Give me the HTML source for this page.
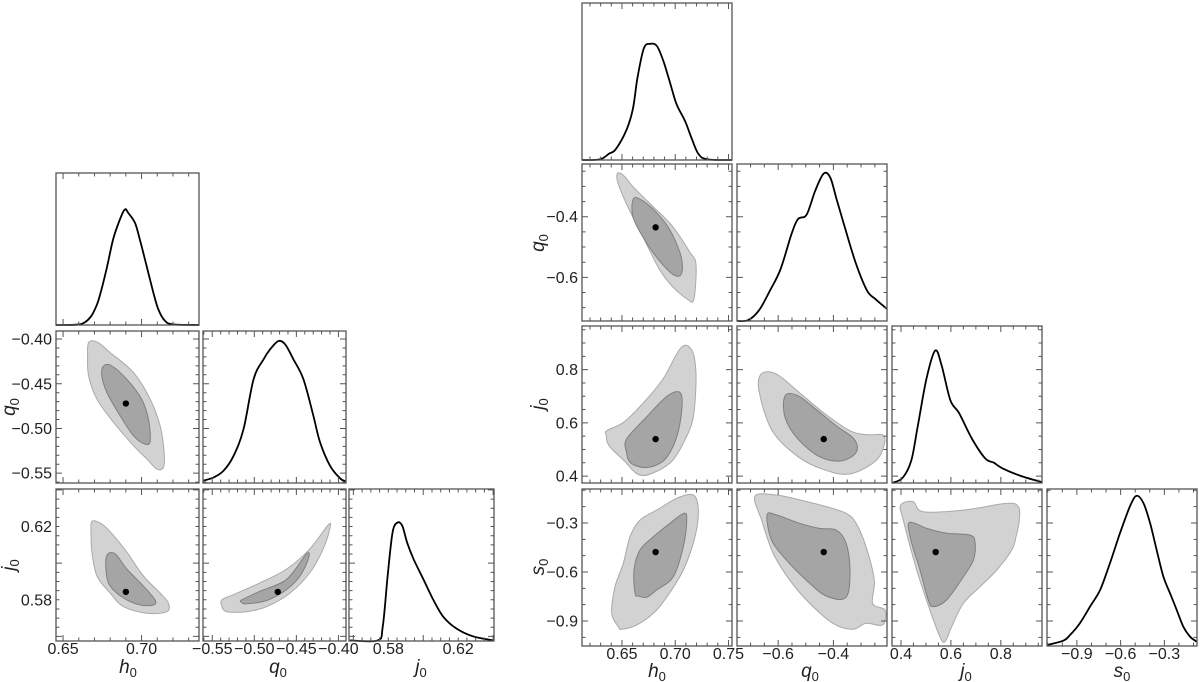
<!DOCTYPE html>
<html><head><meta charset="utf-8">
<style>
html,body{margin:0;padding:0;background:#fff;}
svg{display:block;font-family:"Liberation Sans",Arial,sans-serif;}
</style></head>
<body>
<svg id="chart" width="1200" height="682" viewBox="0 0 1200 682" xmlns="http://www.w3.org/2000/svg"></svg>
<script>
// ---------- LEFT corner plot data (h0, q0, j0) ----------
const L_h_dens_x = [0.6451,0.6585,0.6638,0.6681,0.6713,0.6734,0.6777,0.6819,0.6862,0.6894,0.6915,0.6958,0.6989,0.7032,0.7075,0.7106,0.7149,0.7202,0.7366];
const L_h_dens_y = [0,0.002,0.017,0.061,0.127,0.192,0.367,0.563,0.694,0.76,0.738,0.672,0.563,0.389,0.214,0.105,0.028,0.004,0];
const L_q_dens_x = [-0.561,-0.5483,-0.5365,-0.5246,-0.5128,-0.5009,-0.4890,-0.4811,-0.4713,-0.4633,-0.4535,-0.4416,-0.4298,-0.4218,-0.4100,-0.3981,-0.391];
const L_q_dens_y = [0.015,0.037,0.081,0.179,0.354,0.683,0.814,0.88,0.934,0.912,0.814,0.683,0.442,0.267,0.114,0.031,0.009];
const L_j_dens_x = [0.558,0.5739,0.5768,0.5796,0.5824,0.5852,0.5880,0.5908,0.5946,0.6002,0.6058,0.6115,0.6190,0.6284,0.640];
const L_j_dens_y = [0.004,0.004,0.093,0.425,0.712,0.779,0.757,0.646,0.535,0.403,0.27,0.159,0.082,0.031,0.004];
const L_hq_outer = [[0.6663,-0.4040],[0.6716,-0.4033],[0.6800,-0.4152],[0.6949,-0.4375],[0.7055,-0.4673],[0.7118,-0.4970],[0.7144,-0.5268],[0.7139,-0.5435],[0.7097,-0.5454],[0.7034,-0.5342],[0.6949,-0.5193],[0.6822,-0.4933],[0.6716,-0.4673],[0.6663,-0.4412],[0.6656,-0.4189]];
const L_hq_inner = [[0.6758,-0.4301],[0.6811,-0.4301],[0.6906,-0.4450],[0.7001,-0.4673],[0.7044,-0.4896],[0.7055,-0.5138],[0.7023,-0.5175],[0.6949,-0.5082],[0.6864,-0.4859],[0.6779,-0.4598],[0.6747,-0.4412]];
const L_hj_outer = [[0.6684,0.6228],[0.6737,0.6219],[0.6800,0.6172],[0.6906,0.6061],[0.7012,0.5930],[0.7118,0.5837],[0.7171,0.5782],[0.7161,0.5735],[0.7034,0.5726],[0.6885,0.5763],[0.6800,0.5837],[0.6716,0.5930],[0.6684,0.6061],[0.6678,0.6172]];
const L_hj_inner = [[0.6779,0.6042],[0.6832,0.6051],[0.6906,0.5968],[0.7012,0.5875],[0.7086,0.5800],[0.7076,0.5772],[0.6991,0.5772],[0.6885,0.5810],[0.6800,0.5875],[0.6775,0.5949]];
const L_qj_outer = [[-0.5385,0.5800],[-0.5247,0.5828],[-0.4931,0.5893],[-0.4615,0.5968],[-0.4338,0.6079],[-0.4121,0.6209],[-0.4101,0.6191],[-0.4180,0.6079],[-0.4338,0.5949],[-0.4575,0.5837],[-0.4852,0.5763],[-0.5089,0.5735],[-0.5326,0.5735],[-0.5385,0.5763]];
const L_qj_inner = [[-0.5148,0.5800],[-0.4931,0.5847],[-0.4615,0.5912],[-0.4378,0.6051],[-0.4358,0.6023],[-0.4457,0.5930],[-0.4615,0.5856],[-0.4852,0.5796],[-0.5089,0.5778],[-0.5148,0.5785]];
const L_best = [0.690, -0.4721, 0.5843];

// ---------- RIGHT corner plot data (h0, q0, j0, s0) ----------
const R_h_dens_x = [0.6126,0.6298,0.6379,0.6441,0.6543,0.6604,0.6645,0.6706,0.6767,0.6828,0.6889,0.6951,0.7012,0.7093,0.7155,0.7216,0.7297,0.7533];
const R_h_dens_y = [0,0.005,0.041,0.068,0.192,0.329,0.521,0.712,0.740,0.726,0.630,0.493,0.356,0.247,0.137,0.041,0.005,0];
const R_q_dens_x = [-0.748,-0.708,-0.669,-0.630,-0.591,-0.552,-0.528,-0.497,-0.466,-0.435,-0.411,-0.388,-0.356,-0.317,-0.278,-0.247,-0.206];
const R_q_dens_y = [0,0.006,0.069,0.193,0.331,0.552,0.649,0.677,0.829,0.939,0.912,0.773,0.580,0.359,0.193,0.138,0.077];
const R_j_dens_x = [0.3646,0.4064,0.4412,0.4673,0.5022,0.5370,0.5631,0.5980,0.6328,0.6851,0.7373,0.7722,0.8070,0.8767,0.965];
const R_j_dens_y = [0,0.033,0.143,0.363,0.665,0.843,0.747,0.527,0.445,0.280,0.157,0.129,0.093,0.047,0.005];
const R_s_dens_x = [-1.105,-0.993,-0.947,-0.879,-0.810,-0.741,-0.673,-0.604,-0.536,-0.490,-0.444,-0.398,-0.353,-0.307,-0.261,-0.215,-0.170,-0.124,-0.078];
const R_s_dens_y = [0.006,0.034,0.070,0.145,0.251,0.357,0.528,0.719,0.889,0.957,0.911,0.783,0.613,0.443,0.336,0.230,0.123,0.060,0.028];
const R_hq_outer = [[0.6461,-0.256],[0.6522,-0.266],[0.6604,-0.301],[0.6767,-0.358],[0.6971,-0.430],[0.7134,-0.515],[0.7195,-0.558],[0.7175,-0.672],[0.7114,-0.672],[0.6971,-0.629],[0.6849,-0.572],[0.6685,-0.458],[0.6543,-0.358],[0.6461,-0.287]];
const R_hq_inner = [[0.6604,-0.344],[0.6665,-0.341],[0.6808,-0.380],[0.6951,-0.444],[0.7053,-0.529],[0.7061,-0.586],[0.6991,-0.593],[0.6849,-0.544],[0.6706,-0.472],[0.6604,-0.401]];
const R_hj_outer = [[0.6359,0.571],[0.6522,0.604],[0.6726,0.686],[0.6889,0.767],[0.7053,0.882],[0.7155,0.874],[0.7195,0.784],[0.7175,0.637],[0.7114,0.555],[0.6971,0.457],[0.6767,0.408],[0.6645,0.408],[0.6522,0.457],[0.6379,0.514],[0.6351,0.555]];
const R_hj_inner = [[0.6543,0.539],[0.6726,0.620],[0.6930,0.702],[0.7053,0.710],[0.7053,0.620],[0.6991,0.522],[0.6889,0.457],[0.6726,0.432],[0.6583,0.449],[0.6543,0.490]];
const R_qj_outer = [[-0.661,0.784],[-0.607,0.784],[-0.528,0.718],[-0.434,0.637],[-0.341,0.571],[-0.278,0.555],[-0.223,0.555],[-0.215,0.522],[-0.247,0.457],[-0.341,0.408],[-0.434,0.424],[-0.528,0.473],[-0.622,0.571],[-0.669,0.718]];
const R_qj_inner = [[-0.575,0.702],[-0.528,0.702],[-0.466,0.653],[-0.388,0.588],[-0.325,0.539],[-0.317,0.490],[-0.372,0.457],[-0.450,0.473],[-0.528,0.539],[-0.575,0.620]];
const R_hs_outer = [[0.6466,-0.935],[0.6404,-0.853],[0.6435,-0.690],[0.6513,-0.547],[0.6576,-0.384],[0.6670,-0.282],[0.6826,-0.221],[0.7014,-0.149],[0.7170,-0.129],[0.7217,-0.221],[0.7186,-0.384],[0.7076,-0.588],[0.6920,-0.754],[0.6795,-0.853],[0.6639,-0.924],[0.6498,-0.951]];
const R_hs_inner = [[0.6623,-0.730],[0.6613,-0.588],[0.6670,-0.465],[0.6795,-0.384],[0.6951,-0.302],[0.7083,-0.241],[0.7108,-0.282],[0.7076,-0.445],[0.6982,-0.629],[0.6826,-0.710],[0.6733,-0.754],[0.6654,-0.747]];
const R_qs_outer = [[-0.684,-0.135],[-0.606,-0.129],[-0.522,-0.159],[-0.426,-0.200],[-0.354,-0.241],[-0.318,-0.302],[-0.282,-0.445],[-0.252,-0.650],[-0.258,-0.792],[-0.213,-0.833],[-0.222,-0.924],[-0.282,-0.914],[-0.330,-0.951],[-0.402,-0.914],[-0.486,-0.792],[-0.558,-0.650],[-0.618,-0.486],[-0.660,-0.282]];
const R_qs_inner = [[-0.640,-0.251],[-0.606,-0.251],[-0.522,-0.302],[-0.450,-0.333],[-0.390,-0.343],[-0.354,-0.424],[-0.340,-0.588],[-0.354,-0.754],[-0.426,-0.747],[-0.498,-0.650],[-0.570,-0.527],[-0.624,-0.404]];
const R_js_outer = [[0.399,-0.190],[0.449,-0.170],[0.489,-0.231],[0.650,-0.221],[0.824,-0.180],[0.870,-0.200],[0.874,-0.282],[0.861,-0.384],[0.844,-0.465],[0.784,-0.588],[0.717,-0.690],[0.650,-0.792],[0.603,-0.935],[0.576,-1.027],[0.556,-0.996],[0.516,-0.833],[0.463,-0.588],[0.409,-0.282]];
const R_js_inner = [[0.429,-0.312],[0.449,-0.298],[0.503,-0.333],[0.583,-0.363],[0.677,-0.374],[0.697,-0.424],[0.690,-0.527],[0.650,-0.629],[0.583,-0.771],[0.529,-0.812],[0.509,-0.771],[0.476,-0.588],[0.443,-0.424]];
const R_best = [0.6816, -0.435, 0.539, -0.478];

// tick label arrays
const L_h_ticks = ["0.65","0.70"];
const L_q_ticks = ["-0.55","-0.50","-0.45","-0.40"];
const L_j_ticks = ["0.58","0.62"];
const R_h_ticks = ["0.65","0.70","0.75"];
const R_q_ticks = ["-0.6","-0.4"];
const R_j_ticks = ["0.4","0.6","0.8"];
const R_s_ticks = ["-0.9","-0.6","-0.3"];

const NS = "http://www.w3.org/2000/svg";
const svg = document.getElementById("chart");
function el(tag, parent){ const e=document.createElementNS(NS,tag); parent.appendChild(e); return e; }
function lin(d0,d1,r0,r1){ return v => r0 + (v-d0)/(d1-d0)*(r1-r0); }
function smoothClosed(pts){
  const n=pts.length; let d="M"+pts[0][0].toFixed(1)+","+pts[0][1].toFixed(1);
  for(let i=0;i<n;i++){
    const p0=pts[(i-1+n)%n],p1=pts[i],p2=pts[(i+1)%n],p3=pts[(i+2)%n];
    const c1=[p1[0]+(p2[0]-p0[0])/6,p1[1]+(p2[1]-p0[1])/6];
    const c2=[p2[0]-(p3[0]-p1[0])/6,p2[1]-(p3[1]-p1[1])/6];
    d+="C"+c1[0].toFixed(1)+","+c1[1].toFixed(1)+" "+c2[0].toFixed(1)+","+c2[1].toFixed(1)+" "+p2[0].toFixed(1)+","+p2[1].toFixed(1);
  }
  return d+"Z";
}
function smoothOpen(pts){
  const n=pts.length; let d="M"+pts[0][0].toFixed(1)+","+pts[0][1].toFixed(1);
  for(let i=0;i<n-1;i++){
    const p0=pts[Math.max(i-1,0)],p1=pts[i],p2=pts[i+1],p3=pts[Math.min(i+2,n-1)];
    const c1=[p1[0]+(p2[0]-p0[0])/6,p1[1]+(p2[1]-p0[1])/6];
    const c2=[p2[0]-(p3[0]-p1[0])/6,p2[1]-(p3[1]-p1[1])/6];
    d+="C"+c1[0].toFixed(1)+","+c1[1].toFixed(1)+" "+c2[0].toFixed(1)+","+c2[1].toFixed(1)+" "+p2[0].toFixed(1)+","+p2[1].toFixed(1);
  }
  return d;
}
function tickVals(min,max,step){ const out=[]; let k=Math.ceil(min/step-1e-9); for(;k*step<=max+1e-9;k++) out.push(+(k*step).toFixed(6)); return out; }

function drawPanel(g, box, xAx, yAx, name){
  const [x0,y0,w,h]=box;
  const sx=lin(xAx.min,xAx.max,x0,x0+w);
  const sy=yAx?lin(yAx.min,yAx.max,y0+h,y0):null;
  const grp=el("g",g);
  
  
  return {grp,sx,sy,x0,y0,w,h};
}
function frame(P,xAx,yAx){
  const {grp,sx,sy,x0,y0,w,h}=P;
  const tk=el("g",grp);
  
  
  let d="";
  tickVals(xAx.min,xAx.max,xAx.minor).forEach(v=>{
    const isMaj=Math.abs(v/xAx.major-Math.round(v/xAx.major))<1e-6; const L=isMaj?6:3.5; const x=sx(v);
    d+=`M${x},${y0+h}v${-L}M${x},${y0}v${L}`;
  });
  if(yAx){ tickVals(yAx.min,yAx.max,yAx.minor).forEach(v=>{
    const isMaj=Math.abs(v/yAx.major-Math.round(v/yAx.major))<1e-6; const L=isMaj?6:3.5; const y=sy(v);
    d+=`M${x0},${y}h${L}M${x0+w},${y}h${-L}`;
  });}
  const p=el("path",tk); p.setAttribute("d",d); p.setAttribute("stroke","#555"); p.setAttribute("stroke-width","1");
  const r=el("rect",grp);
  
  
  r.setAttribute("x",x0);r.setAttribute("y",y0);r.setAttribute("width",w);r.setAttribute("height",h);
  r.setAttribute("fill","none");r.setAttribute("stroke","#555");r.setAttribute("stroke-width","1.3");
}
function contour(P,pts,inner,name){
  const p=el("path",P.grp);
  
  
  p.setAttribute("d",smoothClosed(pts.map(q=>[P.sx(q[0]),P.sy(q[1])])));
  p.setAttribute("fill",inner?"#a5a5a5":"#d2d2d2");
  p.setAttribute("stroke",inner?"#7f7f7f":"#a9a9a9");
  p.setAttribute("stroke-width","1");
}
function dot(P,x,y){
  const c=el("circle",P.grp);
  
  
  c.setAttribute("cx",P.sx(x));c.setAttribute("cy",P.sy(y));c.setAttribute("r","3.2");c.setAttribute("fill","#000");
}
function density(P,xs,ys,name){
  const pts=xs.map((x,i)=>[Math.min(Math.max(P.sx(x),P.x0),P.x0+P.w), P.y0+P.h-ys[i]*P.h]);
  const p=el("path",P.grp);
  
  
  p.setAttribute("d",smoothOpen(pts));p.setAttribute("fill","none");p.setAttribute("stroke","#000");p.setAttribute("stroke-width","1.8");
}
function text(str,x,y,anchor,size,parent,name,italic){
  const t=el("text",parent||svg);
  
  
  t.setAttribute("x",x);t.setAttribute("y",y);t.setAttribute("text-anchor",anchor);t.setAttribute("font-size",size);t.setAttribute("fill","#222");
  if(italic)t.setAttribute("font-style","italic");
  t.textContent=str; return t;
}
function axisLabel(base,x,y,rot,name){
  const t=el("text",svg);
  
  
  t.setAttribute("x",x);t.setAttribute("y",y);t.setAttribute("text-anchor","middle");t.setAttribute("font-size","19");t.setAttribute("fill","#222");
  if(rot)t.setAttribute("transform",`rotate(-90 ${x} ${y})`);
  const a=el("tspan",t); a.setAttribute("font-style","italic"); a.textContent=base;
  const b=el("tspan",t); b.setAttribute("font-size","13"); b.setAttribute("dy","4"); b.textContent="0";
}
const fmt=s=>s.replace("-","\u2212");

// ===== LEFT =====
const LG=el("g",svg);


const Lcols=[56,203,349], Lrows=[173,331,489], LW=[143,143,145], LH=152;
const LA=[{min:0.6455,max:0.7366,major:0.05,minor:0.01,labels:L_h_ticks},
          {min:-0.561,max:-0.391,major:0.05,minor:0.01,labels:L_q_ticks},
          {min:0.5575,max:0.6405,major:0.04,minor:0.005,labels:L_j_ticks}];
const Ldens=[[L_h_dens_x,L_h_dens_y],[L_q_dens_x,L_q_dens_y],[L_j_dens_x,L_j_dens_y]];
const Lcont={"1,0":[L_hq_outer,L_hq_inner],"2,0":[L_hj_outer,L_hj_inner],"2,1":[L_qj_outer,L_qj_inner]};
for(let r=0;r<3;r++)for(let c=0;c<=r;c++){
  const box=[Lcols[c],Lrows[r],LW[c],LH];
  const yAx=r===c?(r===0?null:LA[r]):LA[r];
  const P=drawPanel(LG,box,LA[c],r===c?null:LA[r],"left-panel-"+r+"-"+c);
  if(r===c) density(P,Ldens[r][0],Ldens[r][1],"density-curve");
  else { const k=Lcont[r+","+c]; contour(P,k[0],false,"contour-95"); contour(P,k[1],true,"contour-68"); dot(P,L_best[c],L_best[r]); }
  if(r===c&&r>0){ P.sy=lin(LA[r].min,LA[r].max,box[1]+LH,box[1]); }
  frame(P,LA[c],yAx);
  if(r===2){ LA[c].labels.forEach(s=>text(fmt(s),P.sx(parseFloat(s)),654,"middle",16,LG,"x-tick-label")); }
  if(c===0&&r>0){ LA[r].labels.forEach(s=>text(fmt(s),52,P.sy(parseFloat(s))+5.5,"end",16,LG,"y-tick-label")); }
}
axisLabel("h",128,673,false,"x-axis-title-h0-left");
axisLabel("q",278,673,false,"x-axis-title-q0-left");
axisLabel("j",421,673,false,"x-axis-title-j0-left");
axisLabel("q",15,407,true,"y-axis-title-q0-left");
axisLabel("j",15,565,true,"y-axis-title-j0-left");

// ===== RIGHT =====
const RG=el("g",svg);


const Rcols=[582,737,892,1047], Rrows=[3,164,326,489], RWd=150, RH=157;
const RAx=[{min:0.6125,max:0.7533,major:0.05,minor:0.01,labels:R_h_ticks},
           {min:-0.749,max:-0.206,major:0.2,minor:0.05,labels:R_q_ticks},
           {min:0.364,max:0.965,major:0.2,minor:0.05,labels:R_j_ticks},
           {min:-1.105,max:-0.076,major:0.3,minor:0.1,labels:R_s_ticks}];
const RAy=[null,
           {min:-0.744,max:-0.226,major:0.2,minor:0.05,labels:R_q_ticks},
           {min:0.374,max:0.964,major:0.2,minor:0.05,labels:R_j_ticks},
           {min:-1.053,max:-0.092,major:0.3,minor:0.1,labels:R_s_ticks}];
const Rdens=[[R_h_dens_x,R_h_dens_y],[R_q_dens_x,R_q_dens_y],[R_j_dens_x,R_j_dens_y],[R_s_dens_x,R_s_dens_y]];
const Rcont={"1,0":[R_hq_outer,R_hq_inner],"2,0":[R_hj_outer,R_hj_inner],"2,1":[R_qj_outer,R_qj_inner],
             "3,0":[R_hs_outer,R_hs_inner],"3,1":[R_qs_outer,R_qs_inner],"3,2":[R_js_outer,R_js_inner]};
for(let r=0;r<4;r++)for(let c=0;c<=r;c++){
  const box=[Rcols[c],Rrows[r],RWd,RH];
  const P=drawPanel(RG,box,RAx[c],r===c?null:RAy[r],"right-panel-"+r+"-"+c);
  if(r===c) density(P,Rdens[r][0],Rdens[r][1],"density-curve");
  else { const k=Rcont[r+","+c]; contour(P,k[0],false,"contour-95"); contour(P,k[1],true,"contour-68"); dot(P,R_best[c],R_best[r]); }
  if(r===c&&r>0){ P.sy=lin(RAy[r].min,RAy[r].max,box[1]+RH,box[1]); }
  frame(P,RAx[c],r===0?null:RAy[r]);
  if(r===3){ RAx[c].labels.forEach(s=>text(fmt(s),P.sx(parseFloat(s)),659,"middle",16,RG,"x-tick-label")); }
  if(c===0&&r>0){ RAy[r].labels.forEach(s=>text(fmt(s),578,P.sy(parseFloat(s))+5.5,"end",16,RG,"y-tick-label")); }
}
axisLabel("h",657,677,false,"x-axis-title-h0-right");
axisLabel("q",810,677,false,"x-axis-title-q0-right");
axisLabel("j",966,677,false,"x-axis-title-j0-right");
axisLabel("s",1122,677,false,"x-axis-title-s0-right");
axisLabel("q",544,243,true,"y-axis-title-q0-right");
axisLabel("j",544,404,true,"y-axis-title-j0-right");
axisLabel("s",544,567,true,"y-axis-title-s0-right");
</script>
</body></html>
